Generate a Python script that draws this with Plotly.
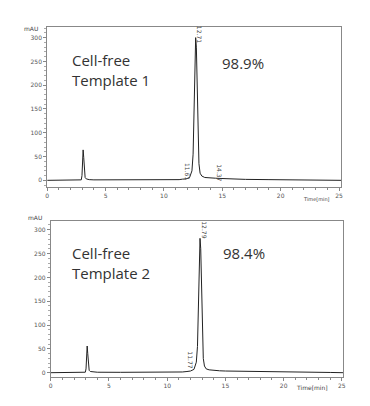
import plotly.graph_objects as go

# ---- data ----
t1 = [0, 2.8, 2.92, 2.98, 3.03, 3.08, 3.13, 3.18, 3.25, 3.35, 3.6, 4.0, 6, 8, 10, 11.3, 11.6, 11.9, 12.2, 12.4,
      12.5, 12.58, 12.65, 12.72, 12.78, 12.85, 12.92, 13.0, 13.1, 13.25, 13.5, 13.8, 14.1, 14.4, 14.8, 15.5, 17, 19, 21, 23, 25.2]
y1 = [0, 0, 1, 10, 42, 64, 48, 18, 6, 3, 1.5, 1, 0.8, 0.8, 1, 1.5, 2.5, 3, 6, 20,
      55, 140, 240, 300, 280, 190, 90, 35, 15, 9, 6, 5, 4.5, 4.5, 4, 3, 2, 1.5, 1, 0.5, 0]

t2 = [0, 2.85, 2.97, 3.03, 3.08, 3.13, 3.18, 3.23, 3.3, 3.4, 3.6, 4.0, 6, 8, 10, 11.3, 11.7, 12.0, 12.3, 12.5,
      12.6, 12.68, 12.75, 12.82, 12.88, 12.95, 13.02, 13.1, 13.2, 13.35, 13.6, 13.9, 14.2, 14.5, 15, 16, 18, 20, 22, 24, 25.1]
y2 = [0, 0, 1, 8, 35, 56, 40, 15, 5, 2.5, 1.5, 1, 0.8, 0.8, 1, 1.5, 2.5, 3.5, 7, 22,
      55, 140, 235, 282, 260, 170, 80, 30, 14, 8, 6, 5, 4.5, 4, 3.5, 3, 2, 1.5, 1, 0.5, 0]

peak_t1 = [11.61, 12.71, 14.37]
peak_lbl_x1 = [12.0, 13.0, 14.8]
peak_lbl_y1 = [19, 306, 15]
peak_t2 = [11.77, 12.79]
peak_lbl_x2 = [12.0, 13.2]
peak_lbl_y2 = [27, 300]

x_ticks = [0, 5, 10, 15, 20, 25]
y_ticks = [0, 50, 100, 150, 200, 250, 300]

OFF = 8  # page body margin
W, H = 370 - OFF, 406 - OFF

def px(v):
    return (v - OFF) / W

def py(v):
    return 1 - (v - OFF) / H

fig = go.Figure()
fig.add_trace(go.Scatter(x=t1, y=y1, mode="lines", line=dict(color="#222", width=1),
                         xaxis="x", yaxis="y", showlegend=False, hoverinfo="skip"))
fig.add_trace(go.Scatter(x=t2, y=y2, mode="lines", line=dict(color="#222", width=1),
                         xaxis="x2", yaxis="y2", showlegend=False, hoverinfo="skip"))

tickfont = dict(family="DejaVu Sans", size=6, color="#555")
axis_common = dict(showline=True, linecolor="#888", linewidth=1, mirror=True, showgrid=False,
                   zeroline=False, ticks="outside", ticklen=3, tickcolor="#888", tickfont=tickfont)
xminor = dict(dtick=1, ticks="outside", ticklen=2, tickcolor="#888", showgrid=False)
yminor = dict(dtick=10, ticks="outside", ticklen=2, tickcolor="#aaa", showgrid=False)

fig.update_layout(
    width=W, height=H, margin=dict(l=0, r=0, t=0, b=0),
    paper_bgcolor="white", plot_bgcolor="white",
    xaxis=dict(domain=[px(45.7), px(344)], range=[0, 25.2], tickvals=x_ticks, anchor="y",
               minor=xminor, **axis_common),
    yaxis=dict(domain=[py(187), py(26.7)], range=[-14, 323], tickvals=y_ticks, anchor="x",
               minor=yminor, **axis_common),
    xaxis2=dict(domain=[px(49.3), px(345.7)], range=[0, 25.1], tickvals=x_ticks, anchor="y2",
                minor=xminor, **axis_common),
    yaxis2=dict(domain=[py(376.7), py(220.7)], range=[-8.4, 319], tickvals=y_ticks, anchor="x2",
                minor=yminor, **axis_common),
)

big = dict(family="Open Sans", size=15, color="#333")
small = dict(family="DejaVu Sans", size=6, color="#444")
ann = []
ann.append(dict(x=1.96, y=231, xref="x", yref="y", text="Cell-free<br>Template 1", showarrow=False,
                xanchor="left", yanchor="middle", align="left", font=big))
ann.append(dict(x=16.8, y=246, xref="x", yref="y", text="98.9%", showarrow=False,
                xanchor="center", yanchor="middle", font=big))
ann.append(dict(x=1.67, y=230.5, xref="x2", yref="y2", text="Cell-free<br>Template 2", showarrow=False,
                xanchor="left", yanchor="middle", align="left", font=big))
ann.append(dict(x=16.6, y=251.5, xref="x2", yref="y2", text="98.4%", showarrow=False,
                xanchor="center", yanchor="middle", font=big))
for t, x, y in zip(peak_t1, peak_lbl_x1, peak_lbl_y1):
    ann.append(dict(x=x, y=y, xref="x", yref="y", text=f"{t:.2f}", showarrow=False,
                    textangle=90, font=small))
for t, x, y in zip(peak_t2, peak_lbl_x2, peak_lbl_y2):
    ann.append(dict(x=x, y=y, xref="x2", yref="y2", text=f"{t:.2f}", showarrow=False,
                    textangle=90, font=small))
ann.append(dict(x=px(20), y=py(23), xref="paper", yref="paper", text="mAU", showarrow=False,
                font=dict(family="DejaVu Sans", size=6, color="#444")))
ann.append(dict(x=px(24), y=py(217), xref="paper", yref="paper", text="mAU", showarrow=False,
                font=dict(family="DejaVu Sans", size=6, color="#444")))
ann.append(dict(x=px(335), y=py(199), xref="paper", yref="paper", text="Time[min]", showarrow=False,
                font=dict(family="DejaVu Sans", size=5, color="#444")))
ann.append(dict(x=px(332), y=py(393), xref="paper", yref="paper", text="Time[min]", showarrow=False,
                font=dict(family="DejaVu Sans", size=6, color="#444")))
fig.update_layout(annotations=ann)

fig.write_html("out.html")
